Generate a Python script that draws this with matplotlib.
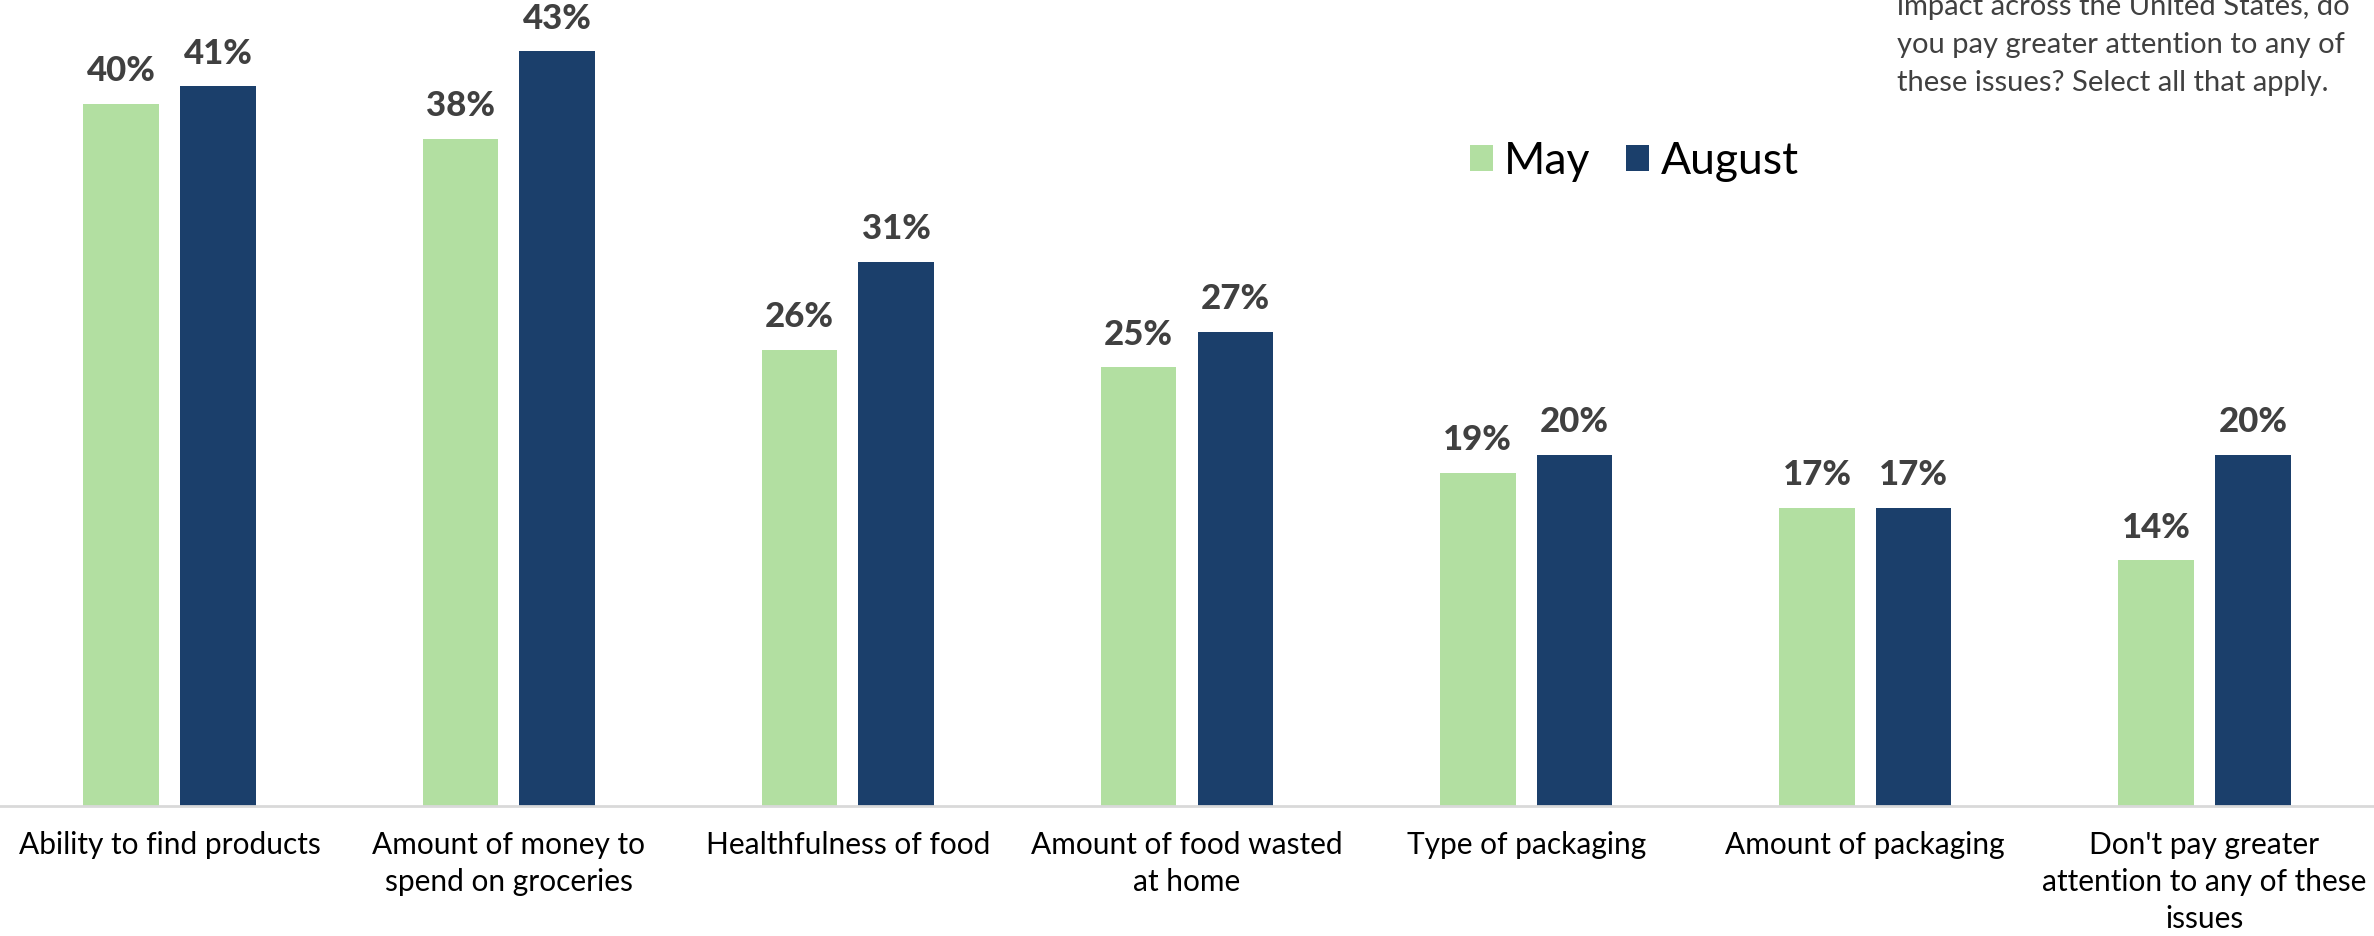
import matplotlib
matplotlib.use("Agg")
import matplotlib.pyplot as plt
import numpy as np
from matplotlib.patches import Patch

plt.rcParams['font.family'] = ['Lato', 'DejaVu Sans']

categories = ["Ability to find products", "Amount of money to\nspend on groceries",
              "Healthfulness of food", "Amount of food wasted\nat home",
              "Type of packaging", "Amount of packaging",
              "Don't pay greater\nattention to any of these\nissues"]
may = [40, 38, 26, 25, 19, 17, 14]
august = [41, 43, 31, 27, 20, 17, 20]
series_names = ["May", "August"]
colors = ["#B2DFA1", "#1B3F6B"]
question_lines = ["impact across the United States, do",
                  "you pay greater attention to any of",
                  "these issues? Select all that apply."]

W, H = 2374, 936
fig = plt.figure(figsize=(W/100, H/100), dpi=100)
base_y = 806
ppp = 17.55  # pixels per percent
ymax = 45
ax = fig.add_axes([0, 1 - base_y/H, 1, ymax*ppp/H])

x = np.arange(len(categories))
bw = 0.223
off = (bw + 0.062) / 2
b1 = ax.bar(x - off, may, bw, color=colors[0], label=series_names[0])
b2 = ax.bar(x + off, august, bw, color=colors[1], label=series_names[1])

for bars, vals in ((b1, may), (b2, august)):
    for r, v in zip(bars, vals):
        ax.annotate(f"{v}%", (r.get_x() + r.get_width()/2, v),
                    xytext=(0, 12), textcoords="offset points",
                    ha="center", va="bottom", fontsize=25, fontweight=900,
                    color="#404040", annotation_clip=False)

ax.set_xlim(-0.5, 6.5)
ax.set_ylim(0, ymax)
for s in ["top", "right", "left"]:
    ax.spines[s].set_visible(False)
ax.spines["bottom"].set_color("#D9D9D9")
ax.spines["bottom"].set_linewidth(2)
ax.set_yticks([])
ax.set_xticks(x)
ax.set_xticklabels(categories, fontsize=21.5, color="black", linespacing=1.4)
ax.tick_params(axis="x", length=0, pad=18)

handles = [Patch(facecolor=c, edgecolor="none") for c in colors]
fig.legend(handles, series_names, loc="center left",
           bbox_to_anchor=(1470/W, 1 - 161/H), frameon=False, ncol=2,
           fontsize=32, handlelength=0.52, handleheight=0.52,
           handletextpad=0.25, columnspacing=0.8, borderpad=0, borderaxespad=0)

for i, line in enumerate(question_lines):
    fig.text(1897/W, 1 - (15 + 38*i)/H, line, fontsize=21, color="#404040",
             ha="left", va="baseline")

fig.savefig("out.png", dpi=100)
